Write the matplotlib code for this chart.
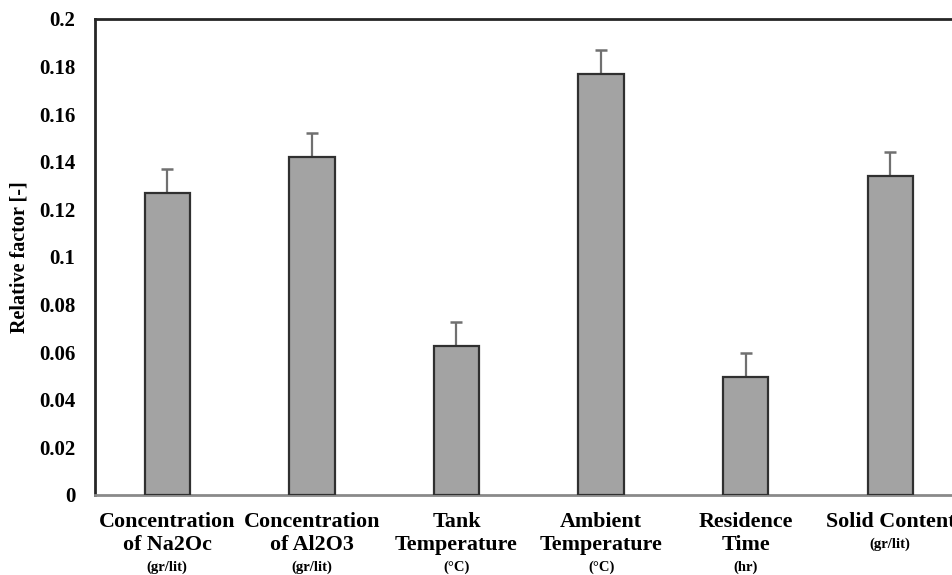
import numpy as np
import matplotlib.pyplot as plt

# Relative factors of each process parameter (+ error)
factors = ["Concentration\nof Na2Oc", "Concentration\nof Al2O3", "Tank\nTemperature",
           "Ambient\nTemperature", "Residence\nTime", "Solid Content"]
units = ["(gr/lit)", "(gr/lit)", "(°C)", "(°C)", "(hr)", "(gr/lit)"]
values = [0.127, 0.142, 0.0625, 0.177, 0.0497, 0.134]
errors = [0.010, 0.010, 0.010, 0.010, 0.010, 0.010]
yticks = [0, 0.02, 0.04, 0.06, 0.08, 0.1, 0.12, 0.14, 0.16, 0.18, 0.2]

plt.rcParams['font.family'] = ['Liberation Serif', 'DejaVu Serif']
plt.rcParams['font.weight'] = 'bold'

fig = plt.figure(figsize=(9.52, 5.75), dpi=100)
ax = fig.add_axes([95 / 952, 80 / 575, 867.6 / 952, 476 / 575])

x = np.arange(len(values))
ax.bar(x, values, width=0.315, color="#a3a3a3", edgecolor="#303030", linewidth=1.6, zorder=3)
ax.errorbar(x, values, yerr=[np.zeros(len(errors)), errors], fmt="none",
            ecolor="#707070", elinewidth=1.6, capsize=4, capthick=1.8, zorder=2)

ax.set_xlim(-0.5, len(values) - 0.5)
ax.set_ylim(0, 0.2)
ax.set_yticks(yticks)
ax.set_yticklabels(["{:g}".format(t) for t in yticks], fontsize=15, fontweight="bold")
ax.tick_params(axis="y", length=0, pad=14)
ax.set_xticks([])

ax.set_ylabel("Relative factor [-]", fontsize=14.5, fontweight="bold", labelpad=7)

# category labels with a smaller unit line underneath
for i, (name, unit) in enumerate(zip(factors, units)):
    t = ax.annotate(name, xy=(i, 0), xycoords=("data", "axes fraction"),
                    xytext=(0, -12.5), textcoords="offset points",
                    ha="center", va="top", fontsize=15.8, fontweight="bold",
                    linespacing=1.2, annotation_clip=False)
    ax.annotate(unit, xy=(0.5, 0), xycoords=t, xytext=(0, -4), textcoords="offset points",
                ha="center", va="top", fontsize=10.5, fontweight="bold", annotation_clip=False)

for side in ["left", "top"]:
    ax.spines[side].set_color("#262626")
    ax.spines[side].set_linewidth(2)
ax.spines["bottom"].set_color("#8a8a8a")
ax.spines["bottom"].set_linewidth(2)
ax.spines["right"].set_visible(False)

fig.savefig("out.png", dpi=100)
